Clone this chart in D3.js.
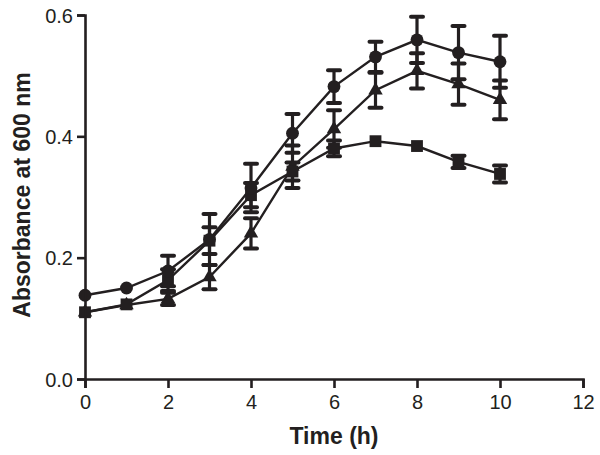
<!DOCTYPE html>
<html><head><meta charset="utf-8">
<script src="https://cdn.jsdelivr.net/npm/d3@7"></script>
<style>body{margin:0;background:#fff}svg{display:block}</style>
</head><body><svg id="c" width="600" height="455"></svg>
<script>
const time = [0,1,2,3,4,5,6,7,8,9,10];
const circleVals = [0.138,0.150,0.178,0.230,0.315,0.405,0.482,0.531,0.559,0.538,0.523];
const circleErr  = [0,0,0.025,0.042,0.040,0.032,0.027,0.025,0.038,0.044,0.043];
const triangleVals = [0.110,0.122,0.132,0.168,0.240,0.350,0.412,0.476,0.508,0.486,0.460];
const triangleErr  = [0,0,0.010,0.020,0.025,0.035,0.031,0.029,0.029,0.034,0.032];
const squareVals = [0.110,0.123,0.163,0.228,0.303,0.342,0.380,0.392,0.384,0.358,0.338];
const squareErr  = [0,0,0.018,0.022,0.020,0.015,0.013,0,0,0.010,0.014];
const xTicks = [0,2,4,6,8,10,12];
const yTicks = [0.0,0.2,0.4,0.6];

const ink = "#231f20";
const svg = d3.select("#c");
const x = d3.scaleLinear().domain([0,12]).range([85,583]);
const y = d3.scaleLinear().domain([0,0.6]).range([379,15]);

const series = [
  {vals: triangleVals, err: triangleErr, sym: d3.symbolTriangle, size: 90},
  {vals: squareVals, err: squareErr, sym: d3.symbolSquare, size: 140},
  {vals: circleVals, err: circleErr, sym: d3.symbolCircle, size: 130}
];

const line = d3.line().x((d,i)=>x(time[i])).y(d=>y(d));
series.forEach(s=>{
  svg.append("path").attr("d", line(s.vals)).attr("fill","none")
    .attr("stroke", ink).attr("stroke-width", 2.4);
});
series.forEach(s=>{
  const g = svg.append("g");
  s.vals.forEach((v,i)=>{
    const e = s.err[i];
    if (!e) return;
    const cx = x(time[i]);
    g.append("line").attr("x1",cx).attr("x2",cx).attr("y1",y(v+e)).attr("y2",y(v-e))
      .attr("stroke",ink).attr("stroke-width",3.2);
    [v+e, v-e].forEach(t=>{
      g.append("line").attr("x1",cx-6).attr("x2",cx+6).attr("y1",y(t)).attr("y2",y(t))
        .attr("stroke",ink).attr("stroke-width",4).attr("stroke-linecap","round");
    });
  });
});
series.forEach(s=>{
  svg.append("g").selectAll("path").data(s.vals).join("path")
    .attr("transform",(d,i)=>`translate(${x(time[i])},${y(d)})`)
    .attr("d", d3.symbol().type(s.sym).size(s.size)())
    .attr("fill", ink);
});

// axes
const xAxis = svg.append("g").attr("transform","translate(0,379)")
  .call(d3.axisBottom(x).tickValues(xTicks).tickFormat(d3.format("d")).tickSize(9).tickPadding(5));
const yAxis = svg.append("g").attr("transform","translate(85,0)")
  .call(d3.axisLeft(y).tickValues(yTicks).tickFormat(d3.format(".1f")).tickSize(8).tickPadding(4));
[xAxis,yAxis].forEach(a=>{
  a.select(".domain").attr("stroke",ink).attr("stroke-width",2.6);
  a.selectAll(".tick line").attr("stroke",ink).attr("stroke-width",2.6);
  a.selectAll(".tick text").attr("fill",ink).style("font-family","'Liberation Sans', Arial, sans-serif").style("font-size","20px");
});
xAxis.selectAll(".tick text").attr("dy","0.78em");
yAxis.selectAll(".tick text").attr("dy","0.36em");

svg.append("text").attr("x",334).attr("y",444).attr("text-anchor","middle")
  .style("font-family","'Liberation Sans', Arial, sans-serif").style("font-size","23px").style("font-weight","bold")
  .attr("fill",ink).text("Time (h)");
svg.append("text").attr("transform","translate(30,195) rotate(-90)").attr("text-anchor","middle")
  .style("font-family","'Liberation Sans', Arial, sans-serif").style("font-size","23px").style("font-weight","bold")
  .attr("fill",ink).text("Absorbance at 600 nm");
</script></body></html>
